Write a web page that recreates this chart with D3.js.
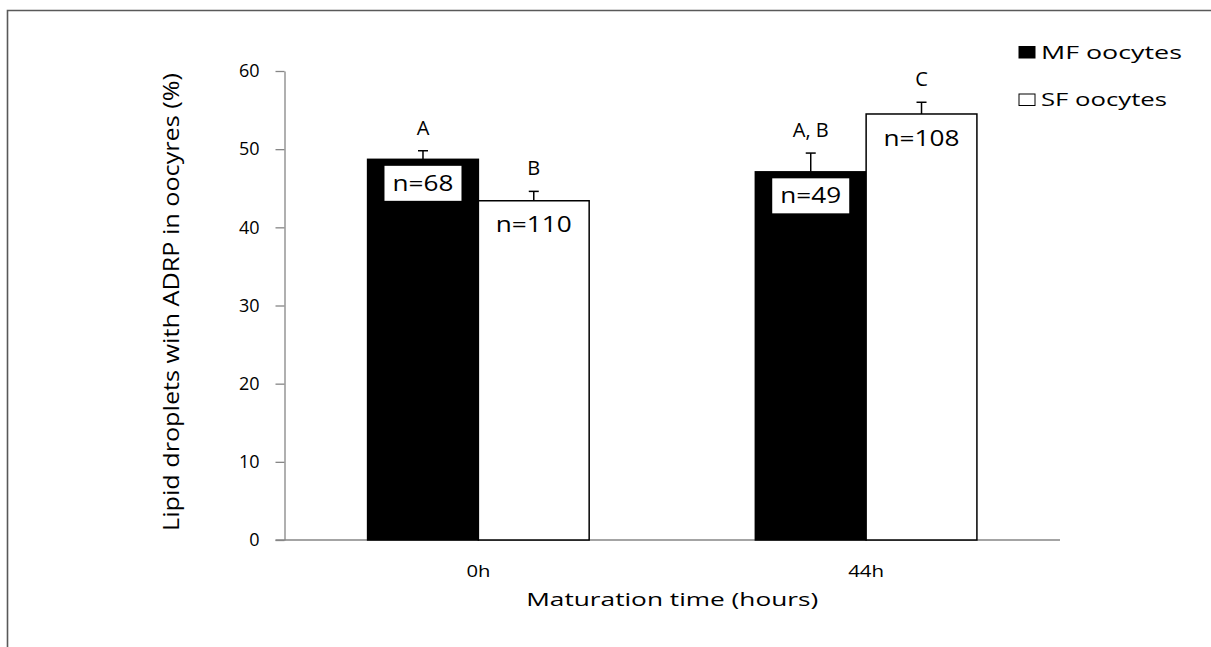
<!DOCTYPE html>
<html>
	<head>
		<title>Lipid droplets with ADRP</title>
		<meta charset="utf-8" />
		<script src="https://d3js.org/d3.v7.min.js"></script>
		<style>
			body { margin: 0; background: #fff; }
			text { font-family: "Open Sans", "Noto Sans", sans-serif; fill: #000; }
		</style>
	</head>
	<body>
		<div id="my_dataviz"></div>

		<script>
			// data
			var categories = ["0h", "44h"];
			var series = ["MF oocytes", "SF oocytes"];
			var mfValues = [48.7, 47.1];
			var mfErrors = [1.1, 2.4];
			var sfValues = [43.4, 54.5];
			var sfErrors = [1.2, 1.5];
			var mfLetters = ["A", "A, B"];
			var sfLetters = ["B", "C"];
			var mfCounts = ["n=68", "n=49"];
			var sfCounts = ["n=110", "n=108"];
			var yTicks = [0, 10, 20, 30, 40, 50, 60];

			// one row per bar
			var rows = [];
			categories.forEach(function(c, i) {
				rows.push({cat: c, ser: series[0], value: mfValues[i], err: mfErrors[i], letter: mfLetters[i], n: mfCounts[i]});
				rows.push({cat: c, ser: series[1], value: sfValues[i], err: sfErrors[i], letter: sfLetters[i], n: sfCounts[i]});
			});

			// plot area (window.top is taken, hence the prefixes)
			var width = 1211, height = 647;
			var plotLeft = 284.5, plotRight = 1060, plotTop = 71, plotBottom = 540;

			var svg = d3.select("#my_dataviz")
				.append("svg")
				.attr("width", width)
				.attr("height", height);

			// frame (only left and top edges show in the picture)
			svg.append("path")
				.attr("d", "M7.5," + height + "V10.5H" + width)
				.attr("fill", "none")
				.attr("stroke", "#595959")
				.attr("stroke-width", 1.6);

			// X scale: categories, then the two series inside each one
			var x = d3.scaleBand()
				.domain(categories)
				.range([plotLeft, plotRight]);

			var xs = d3.scaleBand()
				.domain(series)
				.range([0, x.bandwidth()])
				.paddingInner(0)
				.paddingOuter(0.75);

			// Y scale
			var y = d3.scaleLinear()
				.domain([0, 60])
				.range([plotBottom, plotTop]);

			// y axis
			var yAxis = svg.append("g")
				.attr("transform", "translate(" + plotLeft + ",0)")
				.call(d3.axisLeft(y).tickValues(yTicks).tickSize(9).tickPadding(16).tickSizeOuter(0));
			yAxis.selectAll("path, line").attr("stroke", "#868686").attr("stroke-width", 1.3);
			yAxis.selectAll("text")
				.style("font-family", "'Open Sans', sans-serif")
				.style("font-size", "18px")
				.attr("fill", "#000");

			// x axis, without tick marks
			svg.append("line")
				.attr("x1", plotLeft - 9).attr("x2", plotRight)
				.attr("y1", plotBottom).attr("y2", plotBottom)
				.attr("stroke", "#868686")
				.attr("stroke-width", 1.3);

			svg.append("g")
				.selectAll("text")
				.data(categories)
				.enter()
				.append("text")
				.attr("x", function(d) { return x(d) + x.bandwidth() / 2; })
				.attr("y", 577)
				.attr("text-anchor", "middle")
				.style("font-size", "17px")
				.attr("textLength", function(d) { return d.length * 12; })
				.attr("lengthAdjust", "spacingAndGlyphs")
				.text(function(d) { return d; });

			// axis titles
			svg.append("text")
				.attr("x", (plotLeft + plotRight) / 2)
				.attr("y", 606)
				.attr("text-anchor", "middle")
				.style("font-size", "18px")
				.attr("textLength", 292)
				.attr("lengthAdjust", "spacingAndGlyphs")
				.text("Maturation time (hours)");

			svg.append("text")
				.attr("transform", "translate(179,302) rotate(-90)")
				.attr("text-anchor", "middle")
				.style("font-size", "21px")
				.attr("textLength", 458)
				.attr("lengthAdjust", "spacingAndGlyphs")
				.text("Lipid droplets with ADRP in oocyres (%)");

			// bars
			var bars = svg.append("g")
				.selectAll("g")
				.data(rows)
				.enter()
				.append("g")
				.attr("transform", function(d) { return "translate(" + (x(d.cat) + xs(d.ser)) + ",0)"; });

			var bw = xs.bandwidth();

			// error bars (upper only)
			bars.append("line")
				.attr("x1", bw / 2).attr("x2", bw / 2)
				.attr("y1", function(d) { return y(d.value); })
				.attr("y2", function(d) { return y(d.value + d.err); })
				.attr("stroke", "#000")
				.attr("stroke-width", 1.5);
			bars.append("line")
				.attr("x1", bw / 2 - 5).attr("x2", bw / 2 + 5)
				.attr("y1", function(d) { return y(d.value + d.err); })
				.attr("y2", function(d) { return y(d.value + d.err); })
				.attr("stroke", "#000")
				.attr("stroke-width", 1.5);

			bars.append("rect")
				.attr("x", 0)
				.attr("width", bw)
				.attr("y", function(d) { return y(d.value); })
				.attr("height", function(d) { return y(0) - y(d.value); })
				.attr("fill", function(d) { return d.ser == series[0] ? "#000" : "#fff"; })
				.attr("stroke", "#000")
				.attr("stroke-width", 1.5);

			// white boxes with the counts
			bars.append("rect")
				.attr("x", function(d) { return bw / 2 - (d.n.length * 15 + 17) / 2; })
				.attr("width", function(d) { return d.n.length * 15 + 17; })
				.attr("y", function(d) { return y(d.value) + 6.5; })
				.attr("height", 35)
				.attr("fill", "#fff");

			bars.append("text")
				.attr("x", bw / 2)
				.attr("y", function(d) { return y(d.value) + 24; })
				.attr("dy", "0.36em")
				.attr("text-anchor", "middle")
				.style("font-size", "21px")
				.attr("textLength", function(d) { return d.n.length * 15.2; })
				.attr("lengthAdjust", "spacingAndGlyphs")
				.text(function(d) { return d.n; });

			// significance letters
			bars.append("text")
				.attr("x", bw / 2)
				.attr("y", function(d) { return y(d.value + d.err) - 16; })
				.attr("text-anchor", "middle")
				.style("font-size", "20px")
				.text(function(d) { return d.letter; });

			// legend
			var legend = svg.append("g")
				.selectAll("g")
				.data(series)
				.enter()
				.append("g")
				.attr("transform", function(d, i) { return "translate(1019," + (46.5 + i * 47.5) + ")"; });

			legend.append("rect")
				.attr("width", 16)
				.attr("height", 11.5)
				.attr("fill", function(d, i) { return i == 0 ? "#000" : "#fff"; })
				.attr("stroke", "#000")
				.attr("stroke-width", 1);

			legend.append("text")
				.attr("x", 22)
				.attr("y", 12)
				.style("font-size", "18px")
				.attr("textLength", function(d, i) { return i == 0 ? 141 : 126; })
				.attr("lengthAdjust", "spacingAndGlyphs")
				.text(function(d) { return d; });
		</script>
	</body>
</html>
